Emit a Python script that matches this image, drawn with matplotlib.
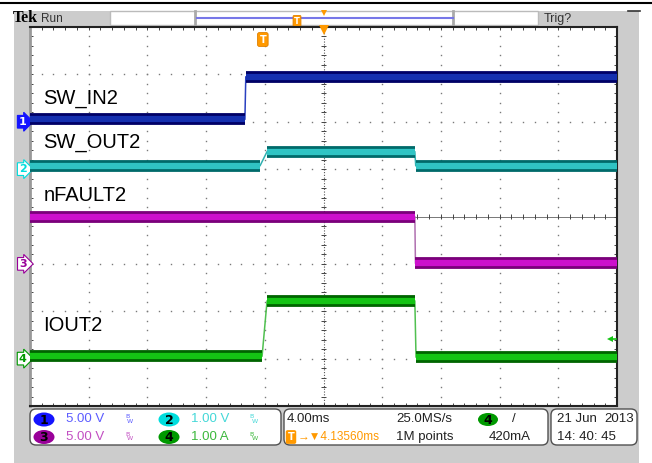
import matplotlib
matplotlib.use("Agg")
import matplotlib.pyplot as plt
from matplotlib.patches import Rectangle, FancyBboxPatch, Ellipse
import numpy as np

# ---- scope settings / data ----
ms_per_div = 4.0
t_center = 4.1356          # record centre, ms after trigger
t_left = t_center - 5 * ms_per_div
t_right = t_center + 5 * ms_per_div

labels = ["SW_IN2", "SW_OUT2", "nFAULT2", "IOUT2"]
scales = [5.0, 1.0, 5.0, 1.0]      # per division
units = ["V", "V", "V", "A"]
offsets = [2, 1, -1, -3]           # divisions from centre

ch1_t = [t_left, -1.22, -1.16, t_right]
ch1_v = [0.25, 0.25, 4.75, 4.75]
ch2_t = [t_left, -0.19, 0.29, 10.36, 10.42, t_right]
ch2_v = [0.07, 0.07, 0.37, 0.37, 0.07, 0.07]
ch3_t = [t_left, 10.36, 10.40, t_right]
ch3_v = [5.0, 5.0, 0.05, 0.05]
ch4_t = [t_left, -0.05, 0.29, 10.36, 10.44, t_right]
ch4_v = [0.05, 0.05, 1.22, 1.22, 0.03, 0.03]

trig_level = 0.42   # A, on ch4
sample_rate = "25.0MS/s"
rec_len = "1M points"
date_str = "21 Jun"
year_str = "2013"
time_str = "14: 40: 45"

sans = ["Liberation Sans", "DejaVu Sans"]
fs = 9.5

fig = plt.figure(figsize=(6.52, 4.63), dpi=100)
fig.patch.set_facecolor("white")

# background / frame in pixel coordinates
bg = fig.add_axes([0, 0, 1, 1], zorder=0)
bg.set_xlim(0, 652)
bg.set_ylim(463, 0)
bg.axis("off")
bg.add_patch(Rectangle((14, 11), 625, 452, fc="#cccccc", ec="none"))
bg.plot([0, 652], [3, 3], color="black", lw=1.5)
bg.plot([628, 640], [11, 11], color="#333333", lw=1.2)

# top status bar
bg.text(13, 22, "Tek", fontsize=11.5, weight="bold", family="Liberation Serif", color="black")
bg.text(41, 22, "Run", fontsize=8.5, family=sans, color="#333333")
bg.add_patch(Rectangle((110, 11), 428, 14, fc="white", ec="#bbbbbb", lw=1))
bg.plot([195, 195], [11, 25], color="#aaaaaa", lw=2)
bg.plot([453, 453], [11, 25], color="#aaaaaa", lw=2)
bg.plot([197, 453], [18, 18], color="#7777e8", lw=1.5)
bg.text(297, 21, "T", fontsize=6, weight="bold", color="white", ha="center", va="center",
        bbox=dict(boxstyle="round,pad=0.12", fc="#ff9900", ec="#e08000", lw=0.6))
bg.plot(324, 13, marker="v", ms=5, color="#ff9900", mew=0)
bg.text(544, 22, "Trig?", fontsize=9, family=sans, color="#333333")

# bottom readout panel
def rbox(x0, x1):
    bg.add_patch(FancyBboxPatch((x0, 409), x1 - x0, 36,
                                boxstyle="round,pad=0,rounding_size=6",
                                fc="white", ec="#505050", lw=1))

rbox(30, 281)
rbox(284, 548)
rbox(551, 637)

badge_c = ["#1414ff", "#00dddd", "#990099", "#009900"]
text_c = ["#5c5cff", "#44d8d8", "#c24ec2", "#3cb83c"]
row_y = [419.5, 437]
col_x = [44, 169]
for i in range(4):
    col = i % 2
    row = i // 2
    bx, by = col_x[col], row_y[row]
    bg.add_patch(Ellipse((bx, by), 21, 14, fc=badge_c[i], ec="none"))
    bg.text(bx, by + 0.5, str(i + 1), fontsize=9, weight="bold", color="black",
            ha="center", va="center")
    bg.text(bx + 22, by, f"{scales[i]:.2f} {units[i]}", fontsize=fs, family=sans,
            color=text_c[i], va="center")
    bg.text(bx + 83, by - 2.5, "B", fontsize=4.5, color=text_c[i], va="center", ha="center")
    bg.text(bx + 86, by + 2, "W", fontsize=4.5, color=text_c[i], va="center", ha="center")

dark = "#222222"
bg.text(287, row_y[0], f"{ms_per_div:.2f}ms", fontsize=fs, family=sans, color=dark, va="center")
bg.text(396, row_y[0], sample_rate, fontsize=fs, family=sans, color=dark, va="center")
bg.add_patch(Ellipse((488, row_y[0]), 20, 13, fc=badge_c[3], ec="none"))
bg.text(488, row_y[0] + 0.5, "4", fontsize=9, weight="bold", color="black", ha="center", va="center")
bg.text(514, row_y[0], "/", fontsize=fs, family=sans, color=dark, va="center", ha="center")
bg.text(291, row_y[1], "T", fontsize=7, weight="bold", color="white", ha="center", va="center",
        bbox=dict(boxstyle="round,pad=0.12", fc="#ff9900", ec="#ff9900"))
bg.text(298, row_y[1], f"\u2192\u25bc{t_center:.5f}ms", fontsize=8.5, family=sans,
        color="#ff9900", va="center")
bg.text(396, row_y[1], rec_len, fontsize=fs, family=sans, color=dark, va="center")
bg.text(489, row_y[1], f"{trig_level * 1000:.0f}mA", fontsize=fs, family=sans, color=dark, va="center")
bg.text(557, row_y[0], date_str, fontsize=fs, family=sans, color=dark, va="center")
bg.text(634, row_y[0], year_str, fontsize=fs, family=sans, color=dark, va="center", ha="right")
bg.text(557, row_y[1], time_str, fontsize=fs, family=sans, color=dark, va="center")

# ---- graticule ----
ax = fig.add_axes([30 / 652, 57 / 463, 587 / 652, 379 / 463], zorder=1)
ax.set_facecolor("white")
ax.set_xlim(t_left, t_right)
ax.set_ylim(-4, 4)
ax.set_xticks([])
ax.set_yticks([])
for s in ["top", "bottom", "right"]:
    ax.spines[s].set_color("#222222")
    ax.spines[s].set_linewidth(1.5)
ax.spines["left"].set_color("#999999")
ax.spines["left"].set_linewidth(2)

grid_c = "#7a7a7a"
minor_x = t_left + np.arange(0, 51) * ms_per_div / 5
minor_y = np.arange(-20, 21) * 0.2
for k in range(1, 10):
    if k == 5:
        continue
    xm = t_left + k * ms_per_div
    ax.plot(np.full(len(minor_y), xm), minor_y, ls="none", marker="s", ms=1.0, mew=0, color=grid_c)
for yk in [-3, -2, -1, 1, 2, 3]:
    ax.plot(minor_x, np.full(len(minor_x), yk), ls="none", marker="s", ms=1.0, mew=0, color=grid_c)

# centre crosshair with ticks
ax.axhline(0, color="#777777", lw=0.7)
ax.axvline(t_center, color="#555555", lw=0.8, ls=(0, (1, 1.5)))
tick_c = "#444444"
ax.vlines(minor_x, -0.05, 0.05, color=tick_c, lw=0.7)
ax.hlines(minor_y, t_center - 0.2, t_center + 0.2, color=tick_c, lw=0.7)
# edge ticks
ax.vlines(minor_x, 3.94, 4, color=tick_c, lw=0.7)
ax.vlines(minor_x, -4, -3.94, color=tick_c, lw=0.7)
ax.hlines(minor_y, t_left, t_left + 0.2, color=tick_c, lw=0.7)
ax.hlines(minor_y, t_right - 0.2, t_right, color=tick_c, lw=0.7)

# ---- traces ----
fills = ["#1530b0", "#30c4c4", "#cc10cc", "#14c414"]
edges = ["#000066", "#006a6a", "#7a007a", "#006400"]
thin = ["#2a40c0", "#30b0b0", "#b070b0", "#50c050"]
traces = [(ch1_t, ch1_v), (ch2_t, ch2_v), (ch3_t, ch3_v), (ch4_t, ch4_v)]
for i, (t, v) in enumerate(traces):
    y = [val / scales[i] + offsets[i] for val in v]
    ax.plot(t, y, color=thin[i], lw=1.1, zorder=3)
    for j in range(len(t) - 1):
        if y[j] == y[j + 1]:
            ax.plot(t[j:j + 2], y[j:j + 2], color=edges[i], lw=8.5, solid_capstyle="butt", zorder=4)
            ax.plot(t[j:j + 2], y[j:j + 2], color=fills[i], lw=4.5, solid_capstyle="butt", zorder=5)

# trace labels
label_pos = [2.375, 1.446, 0.33, -2.417]
for lab, yp in zip(labels, label_pos):
    ax.text(t_left + 0.9, yp, lab, fontsize=14.5, family="Liberation Sans", color="black",
            va="baseline", zorder=6)

# channel markers on left edge
for i in range(4):
    if i == 0:
        fc, tc = badge_c[0], "white"
    else:
        fc, tc = "white", badge_c[i]
    ax.text(-0.006, offsets[i], str(i + 1), transform=ax.get_yaxis_transform(),
            ha="right", va="center", fontsize=8, weight="bold", color=tc, clip_on=False,
            bbox=dict(boxstyle="rarrow,pad=0.12", fc=fc, ec=badge_c[i], lw=0.8))

# trigger markers
ax.text(0, 0.967, "T", transform=ax.get_xaxis_transform(), ha="center", va="center",
        fontsize=7, weight="bold", color="white", zorder=7,
        bbox=dict(boxstyle="round,pad=0.2", fc="#ff9900", ec="#e08000", lw=0.6))
ax.plot(t_center, 3.94, marker="v", ms=7, mew=0, color="#ff9900", clip_on=False, zorder=7)
trig_y = offsets[3] + trig_level / scales[3]
ax.plot(t_right - 0.45, trig_y, marker="<", ms=5, mew=0, color="#14c414", zorder=7)
ax.plot([t_right - 0.45, t_right - 0.1], [trig_y, trig_y], color="#14c414", lw=1.2, zorder=7)

fig.savefig("out.png", dpi=100)
